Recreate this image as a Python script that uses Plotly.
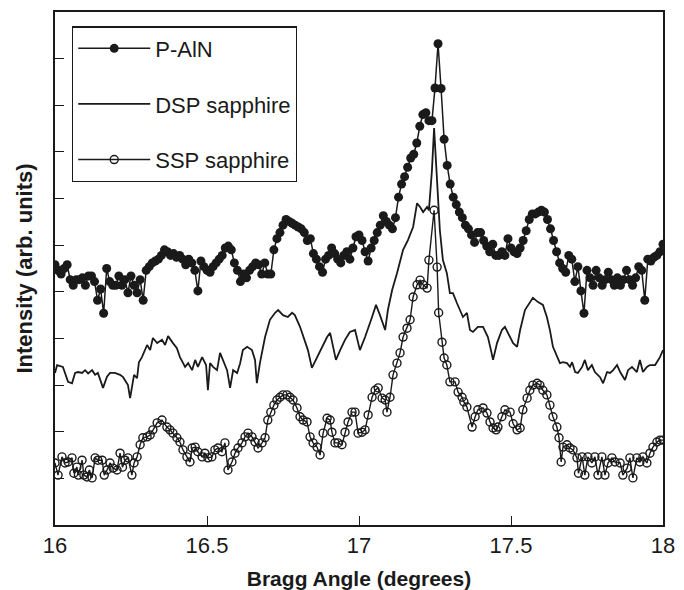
import plotly.graph_objects as go

# Bragg angle grid for P-AlN (degrees)
paln_x = [round(16.0 + 0.01 * i, 2) for i in range(201)]
paln_y = [
    5.58, 5.46, 5.38, 5.50, 5.58, 5.26, 5.14, 5.26, 5.26, 5.30,
    5.14, 5.34, 5.34, 5.22, 4.82, 5.06, 4.54, 5.50, 5.22, 5.14,
    5.14, 5.34, 5.14, 5.26, 4.98, 5.34, 5.14, 4.98, 5.26, 4.82,
    5.46, 5.54, 5.62, 5.66, 5.70, 5.78, 5.90, 5.86, 5.78, 5.82,
    5.74, 5.78, 5.70, 5.58, 5.70, 5.62, 5.46, 5.02, 5.66, 5.54,
    5.46, 5.42, 5.54, 5.62, 5.70, 5.78, 5.94, 5.98, 5.90, 5.62,
    5.46, 5.22, 5.38, 5.30, 5.46, 5.54, 5.62, 5.58, 5.38, 5.62,
    5.38, 5.38, 5.90, 6.14, 6.27, 6.43, 6.55, 6.51, 6.47, 6.43,
    6.39, 6.35, 6.27, 6.10, 6.14, 5.82, 5.70, 5.54, 5.42, 5.70,
    5.78, 5.94, 5.82, 5.70, 5.62, 5.78, 5.86, 5.70, 5.94, 6.18,
    6.22, 6.10, 5.86, 5.66, 5.94, 6.10, 6.27, 6.43, 6.63, 6.51,
    6.43, 6.35, 6.59, 7.03, 7.31, 7.47, 7.67, 7.87, 7.95, 8.19,
    8.55, 8.80, 8.84, 8.67, 8.67, 9.37, 10.32, 9.36, 8.27, 7.71,
    7.31, 7.03, 6.87, 6.71, 6.59, 6.43, 6.35, 6.22, 6.06, 6.27,
    6.27, 6.10, 5.98, 5.86, 6.02, 5.78, 5.78, 5.86, 5.78, 6.14,
    5.94, 5.86, 5.82, 5.94, 6.10, 6.31, 6.55, 6.67, 6.67, 6.71,
    6.75, 6.71, 6.55, 6.35, 6.10, 5.86, 5.62, 5.50, 5.42, 5.78,
    5.70, 5.22, 5.54, 5.02, 4.54, 5.46, 5.30, 5.14, 5.46, 5.30,
    5.14, 5.26, 5.42, 5.26, 5.14, 5.30, 5.14, 5.26, 5.46, 5.26,
    5.14, 5.30, 5.54, 5.46, 4.82, 5.70, 5.66, 5.74, 5.78, 5.86,
    6.02,
]

dsp_x = [
    16.000, 16.007, 16.026, 16.043, 16.056, 16.066, 16.076, 16.089, 16.099, 16.109,
    16.122, 16.132, 16.141, 16.158, 16.171, 16.181, 16.197, 16.214, 16.224, 16.240,
    16.247, 16.260, 16.270, 16.276, 16.286, 16.303, 16.313, 16.322, 16.336, 16.352,
    16.362, 16.372, 16.388, 16.401, 16.411, 16.428, 16.438, 16.451, 16.461, 16.470,
    16.484, 16.497, 16.503, 16.510, 16.520, 16.533, 16.543, 16.553, 16.566, 16.576,
    16.586, 16.599, 16.609, 16.618, 16.632, 16.648, 16.658, 16.664, 16.674, 16.691,
    16.707, 16.724, 16.734, 16.750, 16.766, 16.780, 16.789, 16.806, 16.822, 16.832,
    16.845, 16.862, 16.878, 16.895, 16.905, 16.914, 16.924, 16.938, 16.954, 16.970,
    16.987, 17.003, 17.020, 17.043, 17.056, 17.069, 17.086, 17.095, 17.109, 17.125,
    17.145, 17.161, 17.178, 17.191, 17.201, 17.211, 17.224, 17.230, 17.240, 17.247,
    17.257, 17.266, 17.276, 17.289, 17.299, 17.309, 17.322, 17.332, 17.342, 17.355,
    17.365, 17.375, 17.391, 17.408, 17.424, 17.434, 17.441, 17.454, 17.470, 17.480,
    17.497, 17.507, 17.520, 17.530, 17.546, 17.562, 17.572, 17.589, 17.605, 17.618,
    17.628, 17.638, 17.651, 17.661, 17.671, 17.684, 17.694, 17.701, 17.711, 17.720,
    17.734, 17.743, 17.753, 17.766, 17.776, 17.793, 17.803, 17.816, 17.826, 17.836,
    17.849, 17.859, 17.875, 17.885, 17.898, 17.914, 17.924, 17.934, 17.947, 17.957,
    17.974, 17.990, 18.000,
]
dsp_y = [
    3.26, 3.43, 3.39, 3.07, 3.04, 3.26, 3.28, 3.26, 3.32, 3.25,
    3.32, 3.22, 3.26, 2.94, 3.18, 3.26, 3.26, 3.22, 3.17, 3.00,
    2.72, 3.22, 3.15, 3.49, 3.60, 3.86, 3.75, 4.01, 3.90, 3.97,
    3.86, 4.05, 3.90, 3.79, 3.60, 3.39, 3.47, 3.32, 3.54, 3.39,
    3.60, 3.43, 2.89, 3.47, 3.39, 3.32, 3.69, 3.54, 3.32, 2.94,
    3.32, 3.26, 3.47, 3.75, 3.82, 3.75, 3.54, 3.04, 3.47, 4.03,
    4.40, 4.55, 4.61, 4.50, 4.46, 4.55, 4.50, 4.25, 3.97, 3.75,
    3.37, 3.60, 3.82, 4.03, 4.12, 3.82, 3.54, 3.75, 3.97, 4.14,
    4.18, 3.75, 4.03, 4.46, 4.72, 4.50, 4.18, 4.61, 5.04, 5.40,
    5.90, 6.11, 6.39, 6.90, 6.82, 6.71, 6.82, 6.75, 7.61, 8.51,
    7.40, 6.32, 5.68, 5.40, 4.97, 4.97, 4.76, 4.61, 4.46, 4.55,
    4.18, 4.14, 4.25, 4.25, 4.03, 3.75, 3.54, 3.90, 4.18, 4.25,
    4.03, 3.90, 3.82, 4.18, 4.61, 4.78, 4.87, 4.78, 4.72, 4.46,
    4.18, 3.82, 3.60, 3.47, 3.49, 3.47, 3.39, 3.49, 3.28, 3.26,
    3.39, 3.54, 3.32, 3.43, 3.28, 3.17, 3.04, 3.28, 3.26, 3.32,
    3.43, 3.28, 3.11, 3.32, 3.39, 3.28, 3.54, 3.28, 3.39, 3.43,
    3.43, 3.60, 3.75,
]

ssp_x = [
    16.000, 16.010, 16.023, 16.033, 16.043, 16.056, 16.062, 16.072, 16.077, 16.089,
    16.095, 16.105, 16.113, 16.122, 16.132, 16.141, 16.155, 16.162, 16.171, 16.181,
    16.191, 16.204, 16.214, 16.222, 16.230, 16.240, 16.253, 16.260, 16.270, 16.280,
    16.289, 16.303, 16.313, 16.322, 16.336, 16.352, 16.368, 16.378, 16.388, 16.401,
    16.411, 16.421, 16.434, 16.444, 16.451, 16.461, 16.470, 16.484, 16.493, 16.503,
    16.516, 16.526, 16.536, 16.549, 16.559, 16.569, 16.582, 16.592, 16.602, 16.615,
    16.625, 16.635, 16.648, 16.658, 16.668, 16.681, 16.691, 16.700, 16.710, 16.720,
    16.730, 16.740, 16.750, 16.763, 16.773, 16.783, 16.796, 16.806, 16.816, 16.829,
    16.839, 16.849, 16.862, 16.872, 16.882, 16.895, 16.905, 16.911, 16.921, 16.931,
    16.944, 16.954, 16.964, 16.977, 16.987, 16.997, 17.010, 17.020, 17.030, 17.043,
    17.053, 17.063, 17.076, 17.086, 17.092, 17.102, 17.112, 17.125, 17.135, 17.145,
    17.158, 17.168, 17.178, 17.191, 17.201, 17.211, 17.224, 17.230, 17.247, 17.257,
    17.262, 17.273, 17.280, 17.289, 17.299, 17.316, 17.326, 17.339, 17.345, 17.355,
    17.372, 17.382, 17.391, 17.408, 17.421, 17.431, 17.441, 17.451, 17.457, 17.470,
    17.480, 17.497, 17.507, 17.520, 17.530, 17.539, 17.553, 17.562, 17.572, 17.586,
    17.595, 17.605, 17.618, 17.628, 17.638, 17.651, 17.658, 17.665, 17.671, 17.684,
    17.694, 17.704, 17.717, 17.722, 17.734, 17.743, 17.753, 17.766, 17.776, 17.786,
    17.799, 17.809, 17.819, 17.832, 17.842, 17.859, 17.868, 17.882, 17.891, 17.901,
    17.914, 17.924, 17.934, 17.947, 17.957, 17.967, 17.980, 17.990, 18.000,
]
ssp_y = [
    1.33, 1.07, 1.46, 1.33, 1.35, 1.44, 1.11, 1.24, 1.07, 1.39,
    1.07, 1.03, 1.18, 1.01, 1.44, 1.39, 1.39, 1.07, 1.18, 1.33,
    1.22, 1.18, 1.54, 1.24, 1.39, 1.44, 1.07, 1.33, 1.46, 1.72,
    1.87, 1.89, 1.93, 2.04, 2.19, 2.25, 2.10, 2.04, 1.97, 1.87,
    1.78, 1.61, 1.46, 1.35, 1.65, 1.67, 1.57, 1.46, 1.54, 1.44,
    1.46, 1.61, 1.65, 1.57, 1.76, 1.18, 1.35, 1.54, 1.65, 1.76,
    1.89, 1.97, 1.89, 1.78, 1.65, 1.76, 1.87, 2.25, 2.42, 2.57,
    2.68, 2.74, 2.79, 2.79, 2.74, 2.68, 2.51, 2.32, 2.25, 2.21,
    1.89, 1.76, 1.67, 1.50, 1.97, 2.29, 2.25, 1.99, 1.76, 1.76,
    1.72, 1.99, 2.21, 2.42, 2.42, 1.97, 1.99, 2.04, 2.36, 2.74,
    2.89, 2.94, 2.72, 2.68, 2.42, 2.74, 3.22, 3.47, 3.69, 4.03,
    4.22, 4.40, 4.89, 5.15, 5.25, 5.15, 5.08, 5.68, 6.75, 5.53,
    4.55, 3.92, 3.58, 3.43, 3.07, 3.07, 2.85, 2.74, 2.64, 2.53,
    2.10, 2.32, 2.47, 2.51, 2.40, 2.21, 2.08, 2.04, 2.10, 2.32,
    2.47, 2.42, 2.17, 2.04, 2.08, 2.47, 2.72, 2.89, 3.00, 3.04,
    3.00, 2.89, 2.79, 2.57, 2.32, 2.10, 1.87, 1.35, 1.67, 1.72,
    1.65, 1.61, 1.44, 1.11, 1.46, 1.07, 1.46, 1.33, 1.46, 1.07,
    1.46, 1.07, 1.33, 1.44, 1.35, 1.33, 1.07, 1.22, 1.44, 1.01,
    1.44, 1.35, 1.46, 1.33, 1.54, 1.67, 1.78, 1.82, 1.82,
]

x_ticks = [16, 16.5, 17, 17.5, 18]
x_tick_labels = ["16", "16.5", "17", "17.5", "18"]
y_ticks = [1, 2, 3, 4, 5, 6, 7, 8, 9, 10]

FONT = "Liberation Sans, Arial, Helvetica, sans-serif"
INK = "#1a1a1a"

fig = go.Figure()
fig.add_trace(go.Scatter(
    x=paln_x, y=paln_y, mode="lines+markers", name="P-AlN",
    legendgroup="a",
    line=dict(color=INK, width=1.5),
    marker=dict(symbol="circle", size=9, color=INK, line=dict(width=0)),
))
fig.add_trace(go.Scatter(
    x=dsp_x, y=dsp_y, mode="lines", name="DSP sapphire",
    legendgroup="b",
    line=dict(color=INK, width=1.8),
))
fig.add_trace(go.Scatter(
    x=ssp_x, y=ssp_y, mode="lines+markers", name="SSP sapphire",
    legendgroup="c",
    line=dict(color=INK, width=1.4),
    marker=dict(symbol="circle-open", size=8, color=INK, line=dict(width=1.4)),
))

fig.update_layout(
    width=684, height=590,
    margin=dict(l=55, r=21, t=12, b=65, autoexpand=False),
    paper_bgcolor="white", plot_bgcolor="white",
    font=dict(family=FONT, size=22, color=INK),
    showlegend=True,
    legend=dict(
        x=0.028, y=0.972, xanchor="left", yanchor="top",
        bgcolor="white", bordercolor=INK, borderwidth=1.2,
        font=dict(family=FONT, size=22, color=INK),
        traceorder="grouped", tracegroupgap=24,
        itemwidth=72,
    ),
)
fig.update_xaxes(
    range=[16, 18], tickvals=x_ticks, ticktext=x_tick_labels,
    ticks="inside", ticklen=9, tickwidth=1.2, tickcolor=INK,
    showline=True, linecolor=INK, linewidth=1.5, mirror=True,
    showgrid=False, zeroline=False, automargin=False,
    tickfont=dict(family=FONT, size=22, color=INK),
    title=dict(text="<b>Bragg Angle (degrees)</b>", font=dict(family=FONT, size=21, color=INK)),
)
fig.update_yaxes(
    range=[0, 11], tickvals=y_ticks, showticklabels=False,
    ticks="inside", ticklen=9, tickwidth=1.2, tickcolor=INK,
    showline=True, linecolor=INK, linewidth=1.5, mirror=True,
    showgrid=False, zeroline=False, automargin=False,
    title=dict(text="<b>Intensity (arb. units)</b>", font=dict(family=FONT, size=22, color=INK)),
)

fig.write_html(
    "out.html",
    config={"displayModeBar": False},
    post_script="document.body.style.margin='0px';document.body.style.overflow='hidden';",
)
